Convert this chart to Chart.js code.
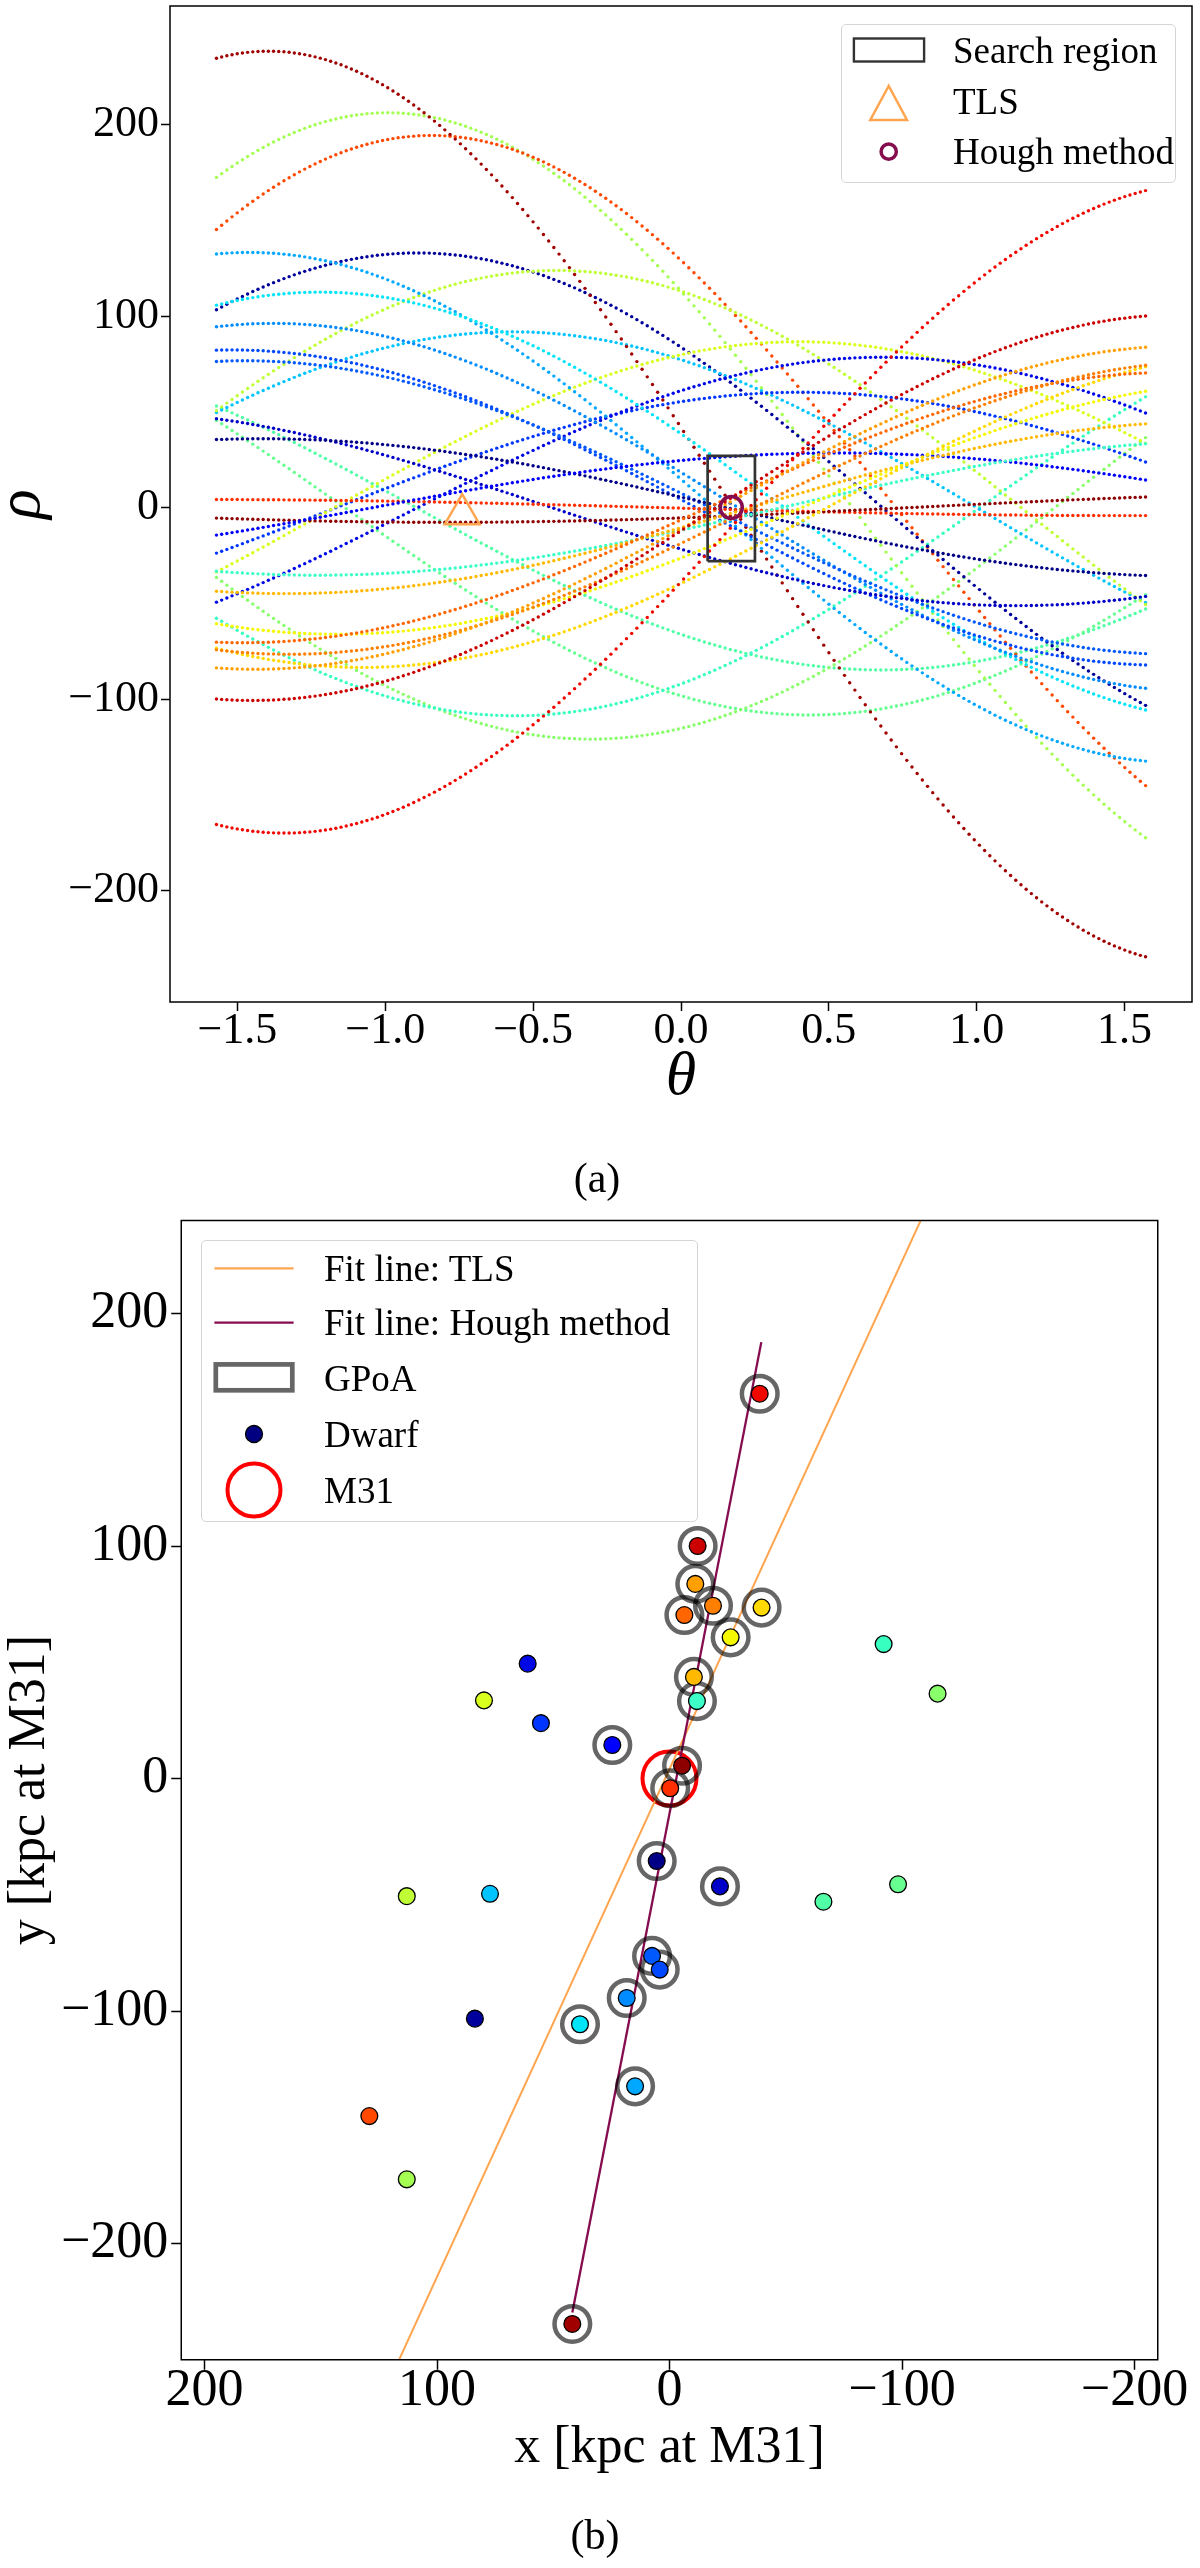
<!DOCTYPE html>
<html>
<head>
<meta charset="utf-8">
<script src="https://cdn.jsdelivr.net/npm/chart.js@4.4.0/dist/chart.umd.min.js"></script>
<style>
  html, body { margin: 0; padding: 0; background: #fff; }
  body { width: 1200px; height: 2568px; position: relative; overflow: hidden; font-family: "Liberation Serif", "DejaVu Serif", serif; }
  canvas { position: absolute; left: 0; }
  .lgbox { position: absolute; box-sizing: border-box; border: 1.5px solid #d4d4d4; border-radius: 5px; background: rgba(255,255,255,0.85); }
  .lgtxt { position: absolute; font-size: 37px; line-height: 37px; white-space: nowrap; color: #000; }
  .cap { position: absolute; width: 200px; text-align: center; font-size: 42px; line-height: 42px; }
  svg { position: absolute; left: 0; top: 0; pointer-events: none; }
</style>
</head>
<body>
<canvas id="hough" width="1200" height="1120" style="top:0"></canvas>
<canvas id="plane" width="1200" height="1320" style="top:1200px"></canvas>

<div class="cap" style="left:497px; top:1157px">(a)</div>
<div class="cap" style="left:495px; top:2514px">(b)</div>

<div class="lgbox" style="left:841px; top:24px; width:335px; height:159px"></div>
<div class="lgtxt" style="left:953px; top:31.5px">Search region</div>
<div class="lgtxt" style="left:953px; top:83px">TLS</div>
<div class="lgtxt" style="left:953px; top:133px">Hough method</div>

<div class="lgbox" style="left:201px; top:1240px; width:497px; height:282px"></div>
<div class="lgtxt" style="left:324px; top:1250px">Fit line: TLS</div>
<div class="lgtxt" style="left:324px; top:1304px">Fit line: Hough method</div>
<div class="lgtxt" style="left:324px; top:1360px">GPoA</div>
<div class="lgtxt" style="left:324px; top:1415.5px">Dwarf</div>
<div class="lgtxt" style="left:324px; top:1471.5px">M31</div>

<svg width="1200" height="2568">
  <rect x="853.9" y="38.5" width="70.2" height="23" fill="none" stroke="#333" stroke-width="2.4"/>
  <polygon points="888.7,86 870.3,120 907,120" fill="none" stroke="#ffa54f" stroke-width="2.5"/>
  <circle cx="888.7" cy="151.7" r="7.6" fill="none" stroke="#850c4f" stroke-width="3.5"/>
  <line x1="214.4" y1="1268.3" x2="293.6" y2="1268.3" stroke="#ffa54f" stroke-width="2.2"/>
  <line x1="214.4" y1="1322.7" x2="293.6" y2="1322.7" stroke="#850c4f" stroke-width="2.2"/>
  <rect x="215.8" y="1364.4" width="76.5" height="25.9" fill="none" stroke="rgba(0,0,0,0.6)" stroke-width="4.7"/>
  <circle cx="254" cy="1434" r="8.5" fill="#000080" stroke="#000" stroke-width="1.3"/>
  <circle cx="254" cy="1490" r="26.5" fill="none" stroke="#ff0000" stroke-width="4"/>
</svg>

<script>
// dwarf positions in the M31 frame [kpc]
const dwarfX = [-38.8, -12.1, -11.1, -18.7, -6.4, -39.6, -26.3, -10.5, -11.8, 24.6,
                -5.4, -0.3, 5.5, -21.7, 7.5, 4.2, 18.4, 38.5, 14.8, 41.8,
                61.0, 79.8, 55.3, 113.0, 77.2, 83.7, 129.1, 113.0, -92.1, -115.3,
                -98.3, -66.2];
const dwarfY = [165.5, 100.0, 83.7, 74.3, 70.3, 73.5, 60.7, 43.7, 33.3, 14.4,
                5.5, -4.2, -35.5, -46.4, -76.3, -82.2, -94.4, -105.7, -132.4, -234.6,
                49.4, 33.6, 23.8, -50.6, -49.6, -103.3, -145.2, -172.4, 57.8, 36.5,
                -45.5, -53.0];
const dwarfColor = ['#f00800', '#cc0000', '#ffa000', '#ff8000', '#ff6600', '#ffd900', '#f4f802', '#ffb900', '#3dffc8', '#0000ff',
                    '#8e0000', '#ff2e00', '#000086', '#0000c8', '#0058ff', '#0048ff', '#008cff', '#00e4f8', '#00a8ff', '#a00000',
                    '#0008e8', '#d8ff1e', '#0034ff', '#c0ff36', '#00c4ff', '#00009c', '#ff4800', '#a4ff52', '#36ffc0', '#8aff6c',
                    '#66ff90', '#50ffa6'];
// 1 = member of the great plane of Andromeda
const dwarfGpoa = [1, 1, 1, 1, 1, 1, 1, 1, 1, 1,
                   1, 1, 1, 1, 1, 1, 1, 1, 1, 1,
                   0, 0, 0, 0, 0, 0, 0, 0, 0, 0,
                   0, 0];

// Hough space results
const tlsTheta = [-0.74], tlsRho = [-3.5];
const houghTheta = [0.17], houghRho = [0.0];
const searchTheta = [0.09, 0.25], searchRho = [-28, 27];
const thetaSamples = 180;

// fit lines in panel (b): end points
const tlsLineX = [116.5, -108.3], tlsLineY = [-250.4, 240.6];
const houghLineX = [41.8, -39.5], houghLineY = [-229.7, 187.7];

// tick labels
const thetaTicks = [-1.5, -1.0, -0.5, 0.0, 0.5, 1.0, 1.5];
const rhoTicks = [-200, -100, 0, 100, 200];
const xTicks = [-200, -100, 0, 100, 200];
const yTicks = [-200, -100, 0, 100, 200];

const SERIF = '"Liberation Serif", "DejaVu Serif", serif';
Chart.defaults.color = '#000';
Chart.defaults.font.family = SERIF;

const minus = s => String(s).replace('-', '\u2212');

const frame = {
    id: 'frame',
    afterDatasetsDraw(chart) {
        const { ctx, chartArea: a } = chart;
        ctx.save();
        ctx.strokeStyle = '#000';
        ctx.lineWidth = 1.5;
        ctx.strokeRect(a.left, a.top, a.right - a.left, a.bottom - a.top);
        ctx.restore();
    }
};

function axis(opts) {
    return {
        type: 'linear',
        min: opts.min,
        max: opts.max,
        reverse: !!opts.reverse,
        afterFit: s => {
            if (opts.width) s.width = opts.width;
            if (opts.height) s.height = opts.height;
            // keep the plot box where the figure has it; labels may overhang
            s.paddingTop = s.paddingBottom = s.paddingLeft = s.paddingRight = 0;
        },
        afterBuildTicks: s => { s.ticks = opts.ticks.map(v => ({ value: v })); },
        ticks: {
            autoSkip: false, maxRotation: 0,
            padding: opts.tickPad,
            font: { size: opts.tickSize, lineHeight: 1 },
            callback: opts.fmt
        },
        grid: { drawOnChartArea: false, drawTicks: true, tickLength: opts.tickLen, tickColor: '#000', tickWidth: 1.5 },
        border: { display: false },
        title: {
            display: true, text: opts.title,
            font: { size: opts.titleSize, style: opts.italic ? 'italic' : 'normal', lineHeight: 1 },
            padding: opts.titlePad
        }
    };
}

// ---- (a) Hough transform: rho = x cos(theta) + y sin(theta) for each dwarf
const thetas = [];
for (let i = 0; i < thetaSamples; i++) {
    thetas.push(-Math.PI / 2 + i * Math.PI / (thetaSamples - 1));
}

const houghSets = [];
houghSets.push({
    label: 'Hough method',
    data: [{ x: houghTheta[0], y: houghRho[0] }],
    pointRadius: 11, pointBorderWidth: 3.5,
    pointBorderColor: '#850c4f', pointBackgroundColor: 'rgba(0,0,0,0)',
    order: 0
});
houghSets.push({
    label: 'TLS',
    data: [{ x: tlsTheta[0], y: tlsRho[0] }],
    pointStyle: 'triangle',
    pointRadius: 20, pointBorderWidth: 2.5,
    pointBorderColor: '#ffa54f', pointBackgroundColor: 'rgba(0,0,0,0)',
    order: 0
});
houghSets.push({
    label: 'Search region',
    data: [
        { x: searchTheta[0], y: searchRho[0] }, { x: searchTheta[1], y: searchRho[0] },
        { x: searchTheta[1], y: searchRho[1] }, { x: searchTheta[0], y: searchRho[1] },
        { x: searchTheta[0], y: searchRho[0] }
    ],
    showLine: true, borderColor: '#333', borderWidth: 2.7, pointRadius: 0, fill: false,
    order: 0
});
for (let d = 0; d < dwarfX.length; d++) {
    houghSets.push({
        label: 'dwarf ' + d,
        data: thetas.map(t => ({ x: t, y: dwarfX[d] * Math.cos(t) + dwarfY[d] * Math.sin(t) })),
        pointRadius: 1.7, pointBorderWidth: 0,
        pointBackgroundColor: dwarfColor[d],
        order: 1
    });
}

new Chart(document.getElementById('hough'), {
    type: 'scatter',
    data: { datasets: houghSets },
    options: {
        responsive: false, animation: false, events: [],
        layout: { autoPadding: false, padding: { top: 6, right: 8, left: 0, bottom: 0 } },
        plugins: { legend: { display: false }, tooltip: { enabled: false } },
        scales: {
            x: axis({ min: -1.7279, max: 1.7279, ticks: thetaTicks, height: 118, tickPad: -2, tickSize: 44, tickLen: 9,
                      fmt: v => minus(v.toFixed(1)), title: 'θ', titleSize: 62, italic: true, titlePad: { top: 0, bottom: 11 } }),
            y: axis({ min: -258.2, max: 261.9, ticks: rhoTicks, width: 170, tickPad: 2, tickSize: 44, tickLen: 9,
                      fmt: v => minus(v), title: 'ρ', titleSize: 62, italic: true, titlePad: { top: -8, bottom: 0 } })
        }
    },
    plugins: [frame]
});

// ---- (b) dwarfs on the sky plane
const ringPts = [], dotPts = [];
for (let d = 0; d < dwarfX.length; d++) {
    dotPts.push({ x: dwarfX[d], y: dwarfY[d] });
    if (dwarfGpoa[d]) ringPts.push({ x: dwarfX[d], y: dwarfY[d] });
}

new Chart(document.getElementById('plane'), {
    type: 'scatter',
    data: {
        datasets: [{
            label: 'Dwarf',
            data: dotPts,
            pointRadius: 8.4, pointBorderWidth: 1.3, pointBorderColor: '#000',
            pointBackgroundColor: dwarfColor,
            order: 1
        }, {
            label: 'GPoA',
            data: ringPts,
            pointRadius: 17.8, pointBorderWidth: 4.5, pointBorderColor: 'rgba(0,0,0,0.6)',
            pointBackgroundColor: 'rgba(0,0,0,0)',
            order: 2
        }, {
            label: 'Fit line: Hough method',
            data: houghLineX.map((x, i) => ({ x: x, y: houghLineY[i] })),
            showLine: true, borderColor: '#850c4f', borderWidth: 2.3, pointRadius: 0,
            order: 3
        }, {
            label: 'Fit line: TLS',
            data: tlsLineX.map((x, i) => ({ x: x, y: tlsLineY[i] })),
            showLine: true, borderColor: '#ffa54f', borderWidth: 2, pointRadius: 0,
            order: 3
        }, {
            label: 'M31',
            data: [{ x: 0, y: 0 }],
            pointRadius: 27, pointBorderWidth: 4, pointBorderColor: '#ff0000',
            pointBackgroundColor: 'rgba(0,0,0,0)',
            order: 4
        }]
    },
    options: {
        responsive: false, animation: false, events: [],
        layout: { autoPadding: false, padding: { top: 20.5, right: 42.25, left: 0, bottom: 0 } },
        plugins: { legend: { display: false }, tooltip: { enabled: false } },
        scales: {
            x: axis({ min: -210, max: 210, reverse: true, ticks: xTicks, height: 160.25, tickPad: -4, tickSize: 52, tickLen: 10,
                      fmt: v => minus(v), title: 'x [kpc at M31]', titleSize: 52, titlePad: { top: 0, bottom: 46 } }),
            y: axis({ min: -250, max: 240, ticks: yTicks, width: 181.25, tickPad: 3, tickSize: 52, tickLen: 10,
                      fmt: v => minus(v), title: 'y [kpc at M31]', titleSize: 52, titlePad: { top: 4.6, bottom: 0 } })
        }
    },
    plugins: [frame]
});
</script>
</body>
</html>
